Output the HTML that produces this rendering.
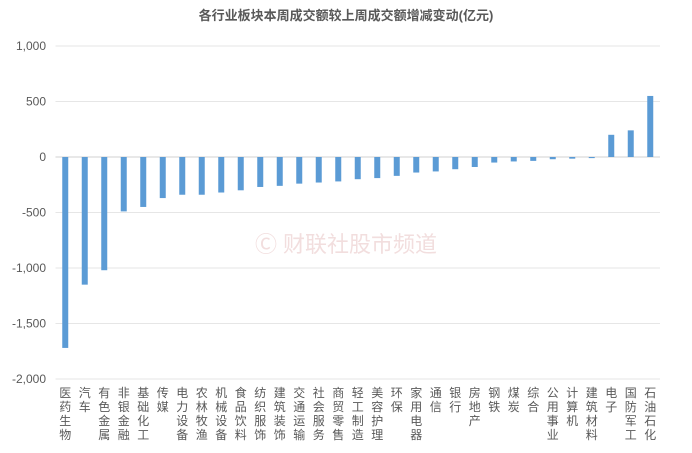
<!DOCTYPE html>
<html><head><meta charset="utf-8"><style>
body{margin:0;background:#fff;font-family:"Liberation Sans","Noto Sans CJK SC",sans-serif}
</style></head><body>
<svg width="692" height="448" id="c">
<text x="346" y="20" text-anchor="middle" font-size="13" font-weight="bold" fill="#595959" font-family="Liberation Sans, Noto Sans CJK SC, sans-serif">各行业板块本周成交额较上周成交额增减变动(亿元)</text>
<text x="346" y="252" text-anchor="middle" font-size="22" fill="#f2dede" font-family="Liberation Sans, Noto Sans CJK SC, sans-serif">Ⓒ 财联社股市频道</text>
<g id="grid"></g><g id="bars"></g><g id="ylab"></g><g id="xlab"></g>
</svg>
<script>
const categories=["医药生物","汽车","有色金属","非银金融","基础化工","传媒","电力设备","农林牧渔","机械设备","食品饮料","纺织服饰","建筑装饰","交通运输","社会服务","商贸零售","轻工制造","美容护理","环保","家用电器","通信","银行","房地产","钢铁","煤炭","综合","公用事业","计算机","建筑材料","电子","国防军工","石油石化"];
const values=[-1720,-1150,-1020,-490,-450,-370,-340,-340,-320,-300,-270,-260,-240,-230,-220,-200,-190,-170,-140,-130,-110,-90,-50,-40,-35,-20,-15,-10,200,240,550];
const ticks=[1000,500,0,-500,-1000,-1500,-2000];
const NS="http://www.w3.org/2000/svg";
const x0=55.5,step=19.5,y=v=>157-v*0.111;
const xc=i=>x0+step*(i+0.5);
function mk(t,a,p){const e=document.createElementNS(NS,t);for(const k in a)e.setAttribute(k,a[k]);document.getElementById(p).appendChild(e);return e;}
ticks.forEach(t=>{
 const l=mk('line',{x1:x0,x2:660,y1:y(t),y2:y(t),stroke:t===0?'#d0d0d0':'#e6e6e6','stroke-width':1},'grid');
 
 
 const tx=mk('text',{x:46,y:y(t)+4,'text-anchor':'end','font-size':12,fill:'#595959'},'ylab');
 tx.textContent=t.toLocaleString('en-US');
 
 
});
values.forEach((v,i)=>{
 const r=mk('rect',{x:xc(i)-3,y:Math.min(y(v),y(0)),width:6,height:Math.abs(y(v)-y(0)),fill:'#5b9bd5'},'bars');
 
 
});
categories.forEach((c,i)=>{
 const t=mk('text',{x:xc(i),'text-anchor':'middle','font-size':12,fill:'#595959'},'xlab');
 
 
 [...c].forEach((ch,j)=>{const s=document.createElementNS(NS,'tspan');s.setAttribute('x',xc(i));s.setAttribute('y',397+j*14);s.textContent=ch;t.appendChild(s);});
});
</script>
</body></html>
